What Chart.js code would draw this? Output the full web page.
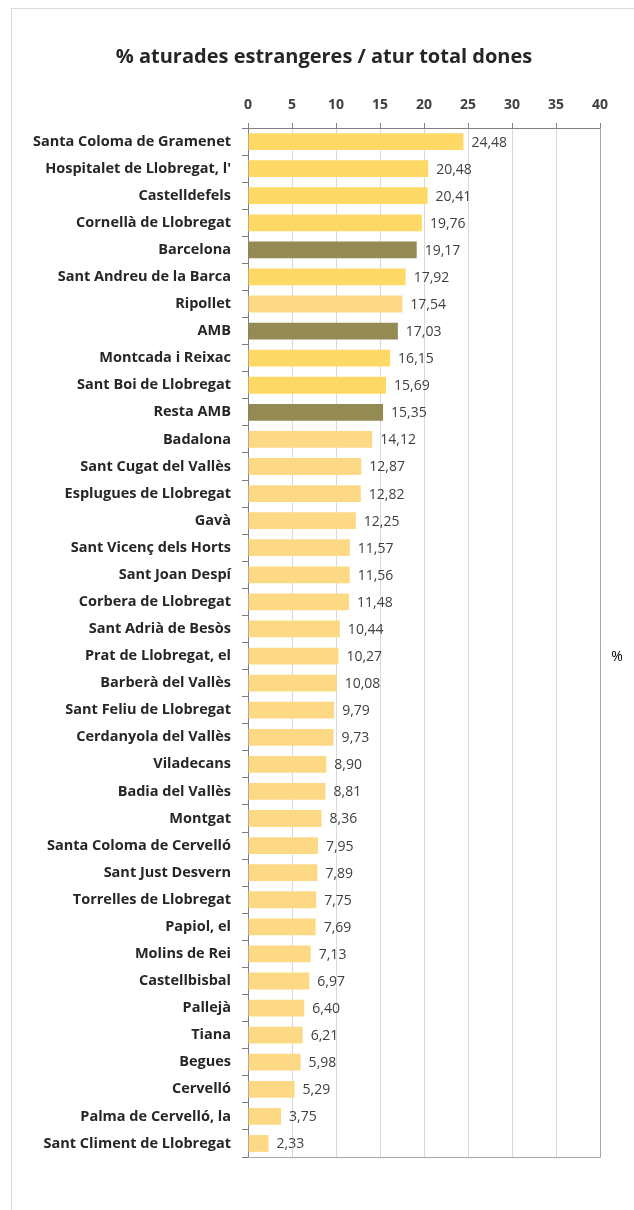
<!DOCTYPE html>
<html>
<head>
<meta charset="utf-8">
<script src="https://cdn.jsdelivr.net/npm/chart.js@4.4.1/dist/chart.umd.min.js"></script>
<style>
  html, body { margin: 0; padding: 0; background: #fff; }
  #wrap { position: relative; width: 634px; height: 1210px; overflow: hidden; }
  #frame { position: absolute; left: 11px; top: 8px; width: 700px; height: 1300px; border: 1px solid #d9d9d9; }
  #chart { position: absolute; left: 0; top: 0; }
</style>
</head>
<body>
<div id="wrap">
  <div id="frame"></div>
  <canvas id="chart" width="634" height="1210"></canvas>
</div>
<script>
const TITLE = '% aturades estrangeres / atur total dones';
const AXIS_UNIT = '%';

const categories = [
  'Santa Coloma de Gramenet', "Hospitalet de Llobregat, l'", 'Castelldefels', 'Cornellà de Llobregat',
  'Barcelona', 'Sant Andreu de la Barca', 'Ripollet', 'AMB', 'Montcada i Reixac',
  'Sant Boi de Llobregat', 'Resta AMB', 'Badalona', 'Sant Cugat del Vallès',
  'Esplugues de Llobregat', 'Gavà', 'Sant Vicenç dels Horts', 'Sant Joan Despí',
  'Corbera de Llobregat', 'Sant Adrià de Besòs', 'Prat de Llobregat, el', 'Barberà del Vallès',
  'Sant Feliu de Llobregat', 'Cerdanyola del Vallès', 'Viladecans', 'Badia del Vallès',
  'Montgat', 'Santa Coloma de Cervelló', 'Sant Just Desvern', 'Torrelles de Llobregat',
  'Papiol, el', 'Molins de Rei', 'Castellbisbal', 'Pallejà', 'Tiana', 'Begues',
  'Cervelló', 'Palma de Cervelló, la', 'Sant Climent de Llobregat'
];

const values = [
  24.48, 20.48, 20.41, 19.76, 19.17, 17.92, 17.54, 17.03, 16.15,
  15.69, 15.35, 14.12, 12.87, 12.82, 12.25, 11.57, 11.56,
  11.48, 10.44, 10.27, 10.08, 9.79, 9.73, 8.90, 8.81,
  8.36, 7.95, 7.89, 7.75, 7.69, 7.13, 6.97, 6.40, 6.21, 5.98,
  5.29, 3.75, 2.33
];

// aggregate rows (olive) and the brighter yellow municipalities
const aggregates = ['Barcelona', 'AMB', 'Resta AMB'];
const brightOnes = [
  'Santa Coloma de Gramenet', "Hospitalet de Llobregat, l'", 'Castelldefels', 'Cornellà de Llobregat',
  'Sant Andreu de la Barca', 'Montcada i Reixac', 'Sant Boi de Llobregat'
];

const xTicks = { min: 0, max: 40, step: 5 };

const OLIVE  = '#948a54';
const BRIGHT = '#ffd966';
const LIGHT  = '#fdd985';
const FONT   = '"Open Sans", sans-serif';

const barColors = categories.map(c =>
  aggregates.includes(c) ? OLIVE : (brightOnes.includes(c) ? BRIGHT : LIGHT));

const fmt = v => v.toFixed(2).replace('.', ',');

const valueLabels = {
  id: 'valueLabels',
  afterDatasetsDraw(chart) {
    const ctx = chart.ctx;
    const meta = chart.getDatasetMeta(0);
    ctx.save();
    ctx.font = '14px ' + FONT;
    ctx.fillStyle = '#404040';
    ctx.textAlign = 'left';
    ctx.textBaseline = 'middle';
    meta.data.forEach((bar, i) => {
      ctx.fillText(fmt(values[i]), bar.x + 8, bar.y + 1);
    });
    ctx.restore();
  }
};

const plotFrame = {
  id: 'plotFrame',
  afterDraw(chart) {
    const { ctx, chartArea: a } = chart;
    ctx.save();
    ctx.strokeStyle = '#a6a6a6';
    ctx.lineWidth = 1;
    ctx.beginPath();
    ctx.moveTo(a.left, Math.round(a.bottom) + 0.5);
    ctx.lineTo(a.right + 0.5, Math.round(a.bottom) + 0.5);
    ctx.lineTo(a.right + 0.5, a.top);
    ctx.stroke();
    // unit label on the right
    ctx.font = '14px ' + FONT;
    ctx.fillStyle = '#000';
    ctx.textAlign = 'center';
    ctx.textBaseline = 'middle';
    ctx.fillText(AXIS_UNIT, 617, 657);
    ctx.restore();
  }
};

new Chart(document.getElementById('chart'), {
  type: 'bar',
  data: {
    labels: categories,
    datasets: [{
      data: values,
      backgroundColor: barColors,
      borderWidth: 0,
      barPercentage: 0.62,
      categoryPercentage: 1.0,
    }],
  },
  options: {
    indexAxis: 'y',
    responsive: false,
    animation: false,
    layout: { padding: { top: 0, right: 0, bottom: 53, left: 14 } },
    plugins: {
      legend: { display: false },
      tooltip: { enabled: false },
      title: {
        display: true,
        text: TITLE,
        color: '#262626',
        font: { family: FONT, size: 20, weight: 'bold' },
        padding: { top: 45, bottom: 0 },
      },
    },
    scales: {
      x: {
        position: 'top',
        min: xTicks.min,
        max: xTicks.max,
        ticks: {
          stepSize: xTicks.step,
          color: '#404040',
          font: { family: FONT, size: 14, weight: 'bold' },
          padding: 10,
        },
        grid: { color: '#d9d9d9', tickColor: '#808080', tickLength: 5 },
        border: { color: '#808080' },
        afterFit(scale) { scale.height = 59; },
      },
      y: {
        ticks: {
          color: '#262626',
          font: { family: FONT, size: 14.5, weight: 'bold' },
          padding: 11,
          autoSkip: false,
        },
        grid: { drawOnChartArea: false, tickLength: 6, color: '#808080', offset: true },
        border: { color: '#808080' },
        afterFit(scale) { scale.width = 234; },
      },
      // empty right-hand gutter that holds the unit label
      gutter: {
        type: 'linear',
        axis: 'y',
        position: 'right',
        display: true,
        ticks: { display: false },
        grid: { display: false, drawTicks: false },
        border: { display: false },
        afterFit(scale) { scale.width = 34; },
      },
    },
  },
  plugins: [valueLabels, plotFrame],
});
</script>
</body>
</html>
